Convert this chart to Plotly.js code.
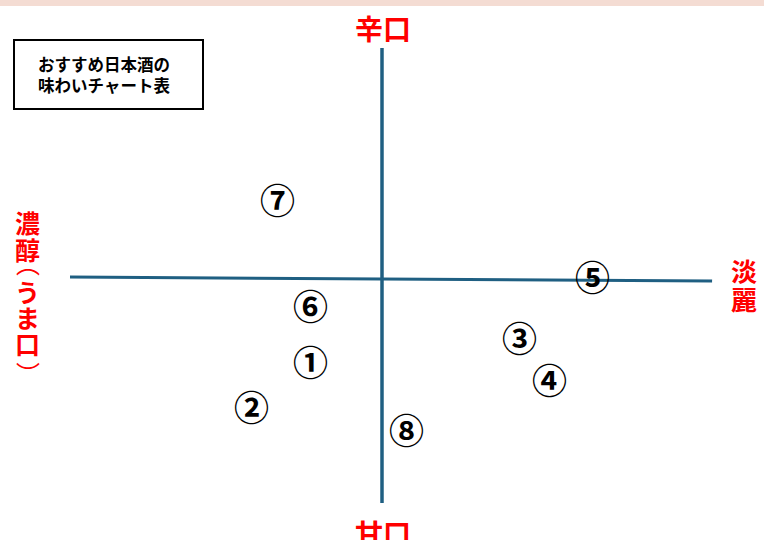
<!DOCTYPE html>
<html><head><meta charset="utf-8">
<script src="https://cdn.plot.ly/plotly-3.0.1.min.js"></script>
<style>html,body{margin:0;padding:0;background:#fff;}#chart{width:764px;height:540px;}</style>
</head><body><div id="chart"></div>
<script>
// Sake items (circled numbers) and their flavour positions
const itemLabels = ['①','②','③','④','⑤','⑥','⑦','⑧'];
const lightness = [-2.28, -4.17, 4.42, 5.38, 6.76, -2.28, -3.36, 0.77];   // - rich (濃醇) ... + light (淡麗)
const dryness   = [-3.51, -5.46, -2.51, -4.29, 0.17, -1.12, 3.50, -6.45]; // - sweet (甘口) ... + dry (辛口)
// Axis line extents
const hAxisX = [-10, 10.58];
const hAxisY = [0.087, -0.087];
const vAxisX = [0, 0];
const vAxisY = [10, -9.70];
// Texts
const titleText = 'おすすめ日本酒の<br>味わいチャート表';
const topLabel = '辛口';
const bottomLabel = '甘口';
const rightLabel = ['淡','麗'];
const leftLabel = ['濃','醇','︵','う','ま','口','︶'];

const cjk = '"Noto Sans CJK JP", "Noto Sans", sans-serif';
const axisColor = '#1f5f82';
const red = '#ff0000';

const traces = [
  {x: hAxisX, y: hAxisY, mode: 'lines', line: {color: axisColor, width: 3}, hoverinfo: 'skip', showlegend: false},
  {x: vAxisX, y: vAxisY, mode: 'lines', line: {color: axisColor, width: 3.5}, hoverinfo: 'skip', showlegend: false}
];

const annotations = [];
// circled item numbers, placed through the data axes
itemLabels.forEach((t, i) => annotations.push({
  xref: 'x', yref: 'y', x: lightness[i], y: dryness[i], text: t, showarrow: false,
  xanchor: 'center', yanchor: 'middle',
  font: {family: cjk, size: 35, color: '#000', weight: 'bold'}
}));
annotations.push(
  {xref: 'paper', yref: 'paper', x: 0.1361, y: 1 - 75/540, text: titleText, showarrow: false,
   font: {family: cjk, size: 16.5, color: '#000', weight: 'bold'}, align: 'center', xanchor: 'center', yanchor: 'middle'},
  {xref: 'paper', yref: 'paper', x: 383/764, y: 1 - 28/540, text: topLabel, showarrow: false,
   font: {family: cjk, size: 28, color: red, weight: 'bold'}, xanchor: 'center', yanchor: 'middle'},
  {xref: 'paper', yref: 'paper', x: 383/764, y: 1 - 533/540, text: bottomLabel, showarrow: false,
   font: {family: cjk, size: 28, color: red, weight: 'bold'}, xanchor: 'center', yanchor: 'middle'}
);
// vertical labels, one character each
const rightY = [270, 298];
rightLabel.forEach((c, i) => annotations.push({
  xref: 'paper', yref: 'paper', x: 744/764, y: 1 - rightY[i]/540, text: c, showarrow: false,
  font: {family: cjk, size: 26, color: red, weight: 'bold'}, xanchor: 'center', yanchor: 'middle'
}));
const leftY = [222, 249, 262, 291, 317, 343, 372];
leftLabel.forEach((c, i) => {
  const paren = (c === '︵' || c === '︶');
  annotations.push({
    xref: 'paper', yref: 'paper', x: 28/764, y: 1 - leftY[i]/540, text: c, showarrow: false,
    font: {family: cjk, size: paren ? 24 : 25, color: red, weight: paren ? 'normal' : 'bold'}, xanchor: 'center', yanchor: 'middle'
  });
});

const shapes = [
  {type: 'rect', xref: 'paper', yref: 'paper', x0: 0, x1: 1, y0: 1 - 6/540, y1: 1,
   fillcolor: '#f4dcd3', line: {width: 0}, layer: 'below'},
  {type: 'rect', xref: 'paper', yref: 'paper', x0: 14/764, x1: 203/764, y0: 1 - 109/540, y1: 1 - 40/540,
   fillcolor: 'rgba(0,0,0,0)', line: {color: '#000', width: 2}}
];

const layout = {
  width: 764, height: 540,
  margin: {l: 0, r: 0, t: 0, b: 0, pad: 0},
  paper_bgcolor: '#fff', plot_bgcolor: '#fff',
  xaxis: {range: [-382/31.2, 382/31.2], visible: false, fixedrange: true},
  yaxis: {range: [-(540-279)/23.1, 279/23.1], visible: false, fixedrange: true},
  annotations: annotations,
  shapes: shapes,
  showlegend: false
};

Plotly.newPlot('chart', traces, layout, {staticPlot: true, displayModeBar: false});
</script>
</body></html>
